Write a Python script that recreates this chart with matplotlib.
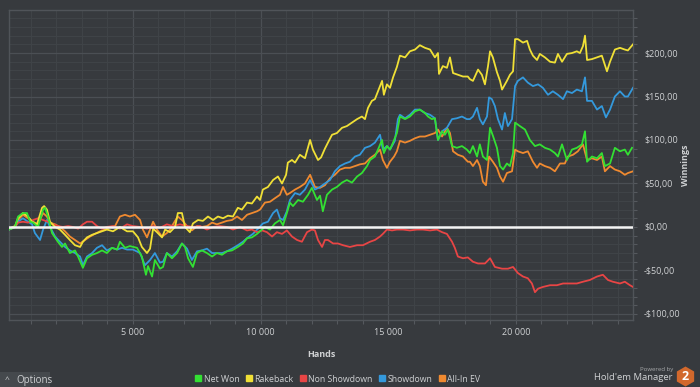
import matplotlib
matplotlib.use("Agg")
import matplotlib.pyplot as plt
from matplotlib.lines import Line2D
from matplotlib.patches import Rectangle, RegularPolygon
from matplotlib.ticker import MultipleLocator, FuncFormatter

# ---------------- DATA ----------------
net_won_hands = [150, 380, 500, 690, 850, 970, 1090, 1280, 1480, 1560,
                 1670, 1830, 2060, 2220, 2340, 2530, 2730, 2850, 3040, 3200,
                 3400, 3590, 3790, 3980, 4180, 4380, 4490, 4690, 4880, 5160,
                 5350, 5510, 5590, 5750, 5860, 6060, 6180, 6330, 6530, 6730,
                 6920, 7040, 7160, 7350, 7510, 7700, 7900, 8100, 8290, 8490,
                 8680, 8880, 9110, 9310, 9470, 9660, 9860, 9980, 10170, 10370,
                 10560, 10760, 10880, 11030, 11150, 11270, 11470, 11660, 11860, 12010,
                 12210, 12330, 12440, 12600, 12800, 12990, 13190, 13380, 13580, 13780,
                 13970, 14170, 14290, 14480, 14600, 14760, 14830, 14950, 15070, 15190,
                 15340, 15460, 15660, 15850, 16050, 16240, 16440, 16560, 16710, 16830,
                 16950, 17110, 17220, 17340, 17500, 17690, 17890, 18080, 18200, 18320,
                 18480, 18590, 18710, 18870, 18990, 19100, 19260, 19380, 19500, 19650,
                 19770, 19890, 19970, 20160, 20360, 20550, 20750, 20940, 21140, 21340,
                 21530, 21650, 21810, 22000, 22200, 22390, 22590, 22710, 22790, 22980,
                 23180, 23370, 23490, 23690, 23880, 24080, 24270, 24390, 24550]
net_won = [-3, 0, 12, 16, 16, 6, 5, 0, 20, 22,
           12, -7, -17, -23, -19, -30, -27, -34, -47, -36,
           -32, -30, -27, -30, -24, -26, -17, -24, -22, -24,
           -34, -55, -45, -57, -38, -48, -46, -30, -36, -30,
           -19, -23, -36, -46, -30, -27, -30, -34, -30, -32,
           -28, -27, -23, -19, -13, -12, -8, -5, 0, -3,
           4, 8, 2, 16, 28, 24, 31, 29, 37, 45,
           31, 36, 18, 37, 43, 46, 51, 54, 51, 58,
           62, 70, 77, 81, 89, 100, 85, 93, 89, 97,
           108, 127, 124, 127, 133, 135, 131, 127, 124, 125,
           100, 110, 106, 112, 93, 91, 93, 89, 85, 93,
           81, 95, 81, 77, 114, 105, 91, 70, 66, 73,
           70, 85, 120, 116, 112, 100, 93, 95, 91, 89,
           85, 81, 95, 77, 89, 91, 95, 110, 75, 81,
           79, 85, 70, 73, 91, 87, 89, 83, 91]

rakeback_hands = [150, 380, 500, 690, 890, 1050, 1240, 1440, 1520, 1630,
                  1750, 1950, 2140, 2340, 2530, 2730, 2930, 3040, 3200, 3400,
                  3590, 3790, 3980, 4220, 4490, 4770, 5000, 5200, 5350, 5550,
                  5670, 5790, 5940, 6140, 6260, 6450, 6650, 6760, 6920, 7040,
                  7230, 7350, 7550, 7740, 7940, 8140, 8330, 8530, 8720, 8920,
                  9110, 9270, 9470, 9660, 9860, 9980, 10090, 10290, 10490, 10680,
                  10840, 11000, 11070, 11230, 11350, 11540, 11740, 11940, 12050, 12250,
                  12370, 12520, 12640, 12800, 12990, 13190, 13380, 13580, 13780, 13970,
                  14090, 14210, 14360, 14480, 14600, 14760, 14830, 14950, 15070, 15190,
                  15340, 15460, 15660, 15850, 16050, 16240, 16440, 16640, 16830, 16950,
                  16990, 17140, 17300, 17420, 17540, 17730, 17930, 18120, 18200, 18320,
                  18520, 18670, 18790, 18910, 18990, 19100, 19260, 19380, 19460, 19650,
                  19770, 19890, 19970, 20080, 20280, 20440, 20550, 20670, 20830, 20940,
                  21140, 21340, 21530, 21650, 21810, 22000, 22200, 22390, 22510, 22630,
                  22710, 22790, 22980, 23180, 23370, 23570, 23690, 23880, 24080, 24270,
                  24390, 24590]
rakeback = [-2, 1, 10, 16, 12, 6, 3, 22, 24, 20,
            6, 0, -3, -9, -15, -21, -23, -17, -12, -9,
            -7, -5, -3, -5, 0, -5, -5, -12, -23, -30,
            -25, -2, -6, -12, -3, -6, 0, 16, 16, 0,
            -6, 4, 8, 7, 12, 8, 12, 10, 13, 12,
            22, 20, 28, 27, 35, 31, 43, 46, 54, 58,
            50, 60, 74, 77, 74, 83, 79, 100, 89, 77,
            80, 90, 97, 106, 108, 114, 116, 120, 124, 127,
            124, 137, 145, 147, 156, 168, 152, 164, 160, 172,
            184, 197, 195, 202, 204, 209, 206, 204, 195, 200,
            176, 185, 183, 195, 177, 175, 173, 173, 170, 168,
            181, 175, 164, 185, 202, 195, 178, 168, 158, 168,
            175, 179, 216, 216, 212, 214, 204, 197, 192, 199,
            195, 190, 189, 199, 190, 199, 200, 202, 200, 208,
            220, 192, 193, 195, 197, 179, 190, 204, 206, 204,
            203, 210]

showdown_hands = [150, 380, 500, 690, 890, 1050, 1160, 1360, 1480, 1630,
                  1750, 1950, 2140, 2340, 2530, 2730, 2930, 3040, 3200, 3400,
                  3590, 3790, 3980, 4180, 4380, 4570, 4770, 5000, 5280, 5470,
                  5670, 5860, 6060, 6180, 6330, 6530, 6730, 6920, 7120, 7310,
                  7510, 7700, 7900, 8100, 8290, 8490, 8680, 8880, 9110, 9310,
                  9510, 9700, 9900, 10090, 10290, 10490, 10640, 10760, 10880, 11030,
                  11150, 11350, 11540, 11740, 11940, 12130, 12330, 12520, 12720, 12910,
                  13110, 13310, 13500, 13700, 13890, 14090, 14290, 14480, 14680, 14790,
                  14950, 15070, 15260, 15380, 15460, 15660, 15850, 16050, 16240, 16440,
                  16640, 16830, 16950, 17110, 17300, 17500, 17690, 17890, 18080, 18200,
                  18320, 18480, 18590, 18710, 18870, 18950, 19060, 19180, 19300, 19460,
                  19570, 19690, 19850, 19970, 20080, 20280, 20470, 20670, 20870, 21060,
                  21260, 21450, 21650, 21850, 22000, 22200, 22390, 22590, 22710, 22790,
                  22980, 23180, 23370, 23530, 23690, 23880, 24080, 24270, 24390, 24590]
showdown = [-3, 0, 6, 10, 6, 3, -7, -15, -3, 8,
            0, -11, -17, -23, -27, -30, -34, -44, -34, -30,
            -24, -21, -27, -24, -26, -24, -26, -26, -30, -44,
            -38, -30, -41, -40, -30, -34, -28, -19, -25, -38,
            -28, -27, -25, -30, -30, -30, -28, -25, -21, -17,
            -12, -8, -2, 4, 6, 16, 20, 10, 8, 18,
            31, 39, 37, 43, 54, 43, 46, 50, 54, 64,
            70, 73, 75, 81, 83, 91, 93, 97, 106, 89,
            93, 89, 99, 124, 129, 125, 129, 135, 135, 131,
            129, 125, 100, 110, 114, 124, 125, 127, 124, 124,
            127, 137, 124, 118, 127, 149, 147, 139, 124, 112,
            131, 116, 124, 162, 168, 172, 166, 162, 164, 160,
            152, 156, 152, 147, 156, 154, 158, 156, 172, 145,
            145, 135, 139, 126, 135, 150, 156, 150, 150, 160]

allin_hands = [150, 380, 500, 690, 890, 1090, 1280, 1480, 1630, 1750,
               1950, 2140, 2340, 2530, 2730, 2930, 3120, 3320, 3510, 3710,
               3910, 4100, 4300, 4490, 4690, 4880, 5080, 5280, 5390, 5550,
               5670, 5790, 5940, 6140, 6330, 6450, 6650, 6760, 6920, 7120,
               7310, 7510, 7700, 7900, 8100, 8290, 8490, 8680, 8880, 9080,
               9270, 9470, 9660, 9860, 9980, 10170, 10370, 10560, 10760, 10880,
               11030, 11150, 11350, 11540, 11740, 11940, 12130, 12330, 12520, 12720,
               12910, 13110, 13310, 13500, 13700, 13890, 14090, 14290, 14480, 14680,
               14790, 14950, 15070, 15230, 15340, 15460, 15660, 15850, 16050, 16240,
               16440, 16640, 16830, 16950, 17110, 17300, 17420, 17540, 17730, 17930,
               18120, 18200, 18320, 18480, 18590, 18710, 18830, 18950, 19100, 19260,
               19380, 19500, 19650, 19850, 19970, 20080, 20280, 20470, 20670, 20830,
               20940, 21140, 21340, 21530, 21730, 21920, 22040, 22240, 22430, 22630,
               22790, 22980, 23180, 23370, 23490, 23690, 23880, 24080, 24270, 24390,
               24590]
allin_ev = [-3, 0, 8, 14, 10, 6, 3, 16, 12, 5,
            3, 0, -5, -11, -15, -19, -15, -11, -8, -5,
            -3, 0, 1, 12, 14, 12, 14, 8, -3, -12,
            -3, 6, -3, -11, -7, -3, 7, 12, 8, 1,
            -4, 1, 0, 1, 5, 3, 5, 7, 8, 12,
            8, 14, 16, 18, 20, 28, 29, 33, 37, 46,
            37, 39, 43, 46, 50, 60, 46, 45, 48, 56,
            60, 66, 68, 68, 70, 72, 73, 79, 83, 89,
            77, 68, 75, 81, 87, 99, 97, 99, 102, 104,
            104, 106, 108, 112, 104, 114, 108, 87, 83, 81,
            75, 75, 70, 77, 70, 52, 48, 81, 75, 68,
            58, 52, 62, 64, 89, 87, 85, 87, 75, 68,
            73, 70, 68, 64, 73, 73, 81, 83, 87, 95,
            77, 79, 77, 81, 64, 70, 66, 64, 60, 62,
            64]

non_sd_hands = [150, 380, 500, 690, 890, 1090, 1280, 1480, 1670, 1870,
                2060, 2260, 2460, 2650, 2850, 3040, 3200, 3400, 3590, 3790,
                3980, 4220, 4490, 4770, 5000, 5280, 5550, 5790, 6060, 6330,
                6570, 6840, 7120, 7350, 7630, 7900, 8140, 8410, 8680, 8920,
                9190, 9470, 9660, 9860, 10060, 10250, 10450, 10640, 10840, 11030,
                11230, 11430, 11620, 11820, 12010, 12130, 12250, 12410, 12520, 12640,
                12840, 13030, 13230, 13500, 13780, 14010, 14290, 14480, 14680, 14790,
                14950, 15150, 15340, 15580, 15850, 16130, 16360, 16640, 16910, 17110,
                17300, 17500, 17610, 17730, 17930, 18120, 18320, 18520, 18790, 18990,
                19180, 19460, 19690, 19890, 20080, 20280, 20470, 20630, 20750, 20870,
                21060, 21340, 21610, 21850, 22120, 22390, 22630, 22900, 23180, 23410,
                23610, 23800, 24080, 24270, 24470, 24590]
non_showdown = [-2, 0, 5, 6, 5, 8, 10, 8, 6, 3,
                1, 0, 1, 0, -2, 3, 6, 6, 1, -2,
                0, 1, -2, 3, 1, 0, -2, 1, -1, 3,
                1, 3, 1, 0, 1, -3, 0, 1, 0, -3,
                0, -4, -3, -6, -4, -6, -11, -6, -8, -4,
                -11, -15, -17, -6, -3, -4, -15, -23, -15, -15,
                -19, -19, -21, -23, -21, -21, -17, -15, -11, -8,
                -3, -4, -3, -3, -4, -3, -3, -4, -3, -6,
                -8, -17, -24, -34, -36, -35, -40, -42, -42, -36,
                -46, -48, -48, -46, -53, -57, -59, -65, -75, -71,
                -69, -67, -67, -65, -65, -65, -63, -61, -57, -55,
                -61, -63, -65, -63, -67, -69]

series_names = ["Net Won", "Rakeback", "Non Showdown", "Showdown", "All-In EV"]
series_colors = ["#33e033", "#f0e036", "#e84545", "#3499dc", "#f08a30"]
# ----------------------------------------------------------------

BG = "#373a3e"
TXT = "#cfd1d3"
plt.rcParams["font.family"] = ["Open Sans", "DejaVu Sans"]

fig = plt.figure(figsize=(7, 3.87), dpi=100, facecolor=BG)
ax = fig.add_axes([9 / 700, 1 - 320 / 387, 624 / 700, 310 / 387], facecolor=BG)

data = [(net_won_hands, net_won), (rakeback_hands, rakeback),
        (non_sd_hands, non_showdown), (showdown_hands, showdown),
        (allin_hands, allin_ev)]
# draw in reverse so Net Won ends up on top
for i in reversed(range(len(data))):
    h, v = data[i]
    ax.plot(h, v, color=series_colors[i], lw=1.3, zorder=3 + (4 - i) * 0.1)

ax.axhline(0, color="#f4f4f4", lw=1.8, zorder=5)

ax.set_xlim(145, 24590)
ax.set_ylim(-107, 249.5)

ax.xaxis.set_major_locator(MultipleLocator(5000))
ax.xaxis.set_minor_locator(MultipleLocator(1000))
ax.yaxis.set_major_locator(MultipleLocator(50))
ax.yaxis.set_minor_locator(MultipleLocator(10))
ax.xaxis.set_major_formatter(FuncFormatter(lambda v, p: f"{int(v):,}".replace(",", " ")))


def money(v, p):
    s = f"{abs(v):,.2f}".replace(".", ",")
    return ("-$" if v < 0 else "$") + s


ax.yaxis.set_major_formatter(FuncFormatter(money))
ax.yaxis.tick_right()

ax.grid(which="major", color="#4b4f54", lw=0.9, zorder=1)
ax.grid(which="minor", color="#404448", lw=0.7, zorder=0.9)
ax.set_axisbelow(True)

for s in ax.spines.values():
    s.set_color("#505459")
    s.set_linewidth(1.0)

ax.tick_params(axis="both", which="both", colors="#55595e", length=3, width=0.8,
               labelcolor=TXT, labelsize=6.5)
ax.tick_params(axis="y", which="both", pad=5)
ax.tick_params(axis="x", which="both", pad=3)

ax.set_xlabel("Hands", color=TXT, fontsize=6.5, fontweight="bold", labelpad=9)
fig.text(685 / 700, 1 - 165 / 387, "Winnings", color=TXT, fontsize=6.5, fontweight="bold",
         rotation=90, ha="center", va="center")

handles = [Line2D([], [], ls="none", marker="s", ms=4, color=c) for c in series_colors]
fig.legend(handles, series_names, loc="center", bbox_to_anchor=(338 / 700, 1 - 379 / 387),
           ncol=5, frameon=False, fontsize=6.3, labelcolor=TXT, handlelength=0.6,
           handletextpad=0.3, columnspacing=0.8, borderpad=0)

# options button
fig.patches.append(Rectangle((0, 0), 50 / 700, 15 / 387, transform=fig.transFigure,
                             facecolor="#45494d", edgecolor="none"))
fig.text(5 / 700, 1 - 380 / 387, "^", color=TXT, fontsize=6, va="center")
fig.text(16 / 700, 1 - 380 / 387, "Options", color=TXT, fontsize=7, va="center")

# hold'em manager logo
fig.text(673 / 700, 1 - 369 / 387, "Powered by", color="#a9abad", fontsize=4.3,
         ha="right", va="center")
fig.text(673 / 700, 1 - 377 / 387, "Hold'em Manager", color=TXT, fontsize=6.8,
         ha="right", va="center")
lax = fig.add_axes([675 / 700, 0, 21 / 700, 21 / 387])
lax.set_xlim(0, 21)
lax.set_ylim(0, 21)
lax.axis("off")
lax.add_patch(RegularPolygon((10.5, 10.5), numVertices=6, radius=10, facecolor="#d2682c",
                             edgecolor="none"))
lax.text(10.5, 10.2, "2", color="white", fontsize=9, fontweight="bold",
         ha="center", va="center")

fig.savefig("out.png", dpi=100, facecolor=BG)
